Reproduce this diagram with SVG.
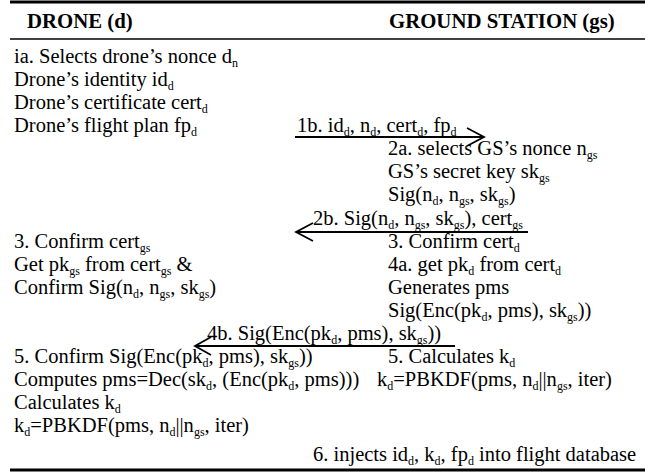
<svg xmlns="http://www.w3.org/2000/svg" width="657" height="473" viewBox="0 0 657 473">
<style>
text{font-family:"Liberation Serif","Times New Roman",serif;font-size:20.5px;fill:#000}
.h{font-weight:bold;font-size:20.8px}
.sb{font-size:12px}
.rule{stroke:#000;fill:none}
.arr{stroke:#000;stroke-width:1.8;fill:none}
</style>
<rect width="657" height="473" fill="#fff"/>
<g id="table">
<line class="rule" x1="10" y1="2" x2="645" y2="2" stroke-width="3"/>
<line class="rule" x1="10" y1="39" x2="645" y2="39" stroke-width="1.6"/>
<line class="rule" x1="10" y1="470" x2="645" y2="470" stroke-width="3"/>
</g>
<g id="drone">
<text class="h" x="27" y="28">DRONE (d)</text>
<text x="14" y="63">ia. Selects drone’s nonce d<tspan class="sb" dy="3.5">n</tspan></text>
<text x="14" y="86">Drone’s identity id<tspan class="sb" dy="3.5">d</tspan></text>
<text x="14" y="109">Drone’s certificate cert<tspan class="sb" dy="3.5">d</tspan></text>
<text x="14" y="132">Drone’s flight plan fp<tspan class="sb" dy="3.5">d</tspan></text>
<text x="14" y="248">3. Confirm cert<tspan class="sb" dy="3.5">gs</tspan></text>
<text x="14" y="271">Get pk<tspan class="sb" dy="3.5">gs</tspan><tspan dy="-3.5"> from cert</tspan><tspan class="sb" dy="3.5">gs</tspan><tspan dy="-3.5"> &amp;</tspan></text>
<text x="14" y="294">Confirm Sig(n<tspan class="sb" dy="3.5">d</tspan><tspan dy="-3.5">, n</tspan><tspan class="sb" dy="3.5">gs</tspan><tspan dy="-3.5">, sk</tspan><tspan class="sb" dy="3.5">gs</tspan><tspan dy="-3.5">)</tspan></text>
<text x="14" y="363">5. Confirm Sig(Enc(pk<tspan class="sb" dy="3.5">d</tspan><tspan dy="-3.5">, pms), sk</tspan><tspan class="sb" dy="3.5">gs</tspan><tspan dy="-3.5">))</tspan></text>
<text x="14" y="386">Computes pms=Dec(sk<tspan class="sb" dy="3.5">d</tspan><tspan dy="-3.5">, (Enc(pk</tspan><tspan class="sb" dy="3.5">d</tspan><tspan dy="-3.5">, pms)))</tspan></text>
<text x="14" y="409">Calculates k<tspan class="sb" dy="3.5">d</tspan></text>
<text x="14" y="432">k<tspan class="sb" dy="3.5">d</tspan><tspan dy="-3.5">=PBKDF(pms, n</tspan><tspan class="sb" dy="3.5">d</tspan><tspan dy="-3.5">||n</tspan><tspan class="sb" dy="3.5">gs</tspan><tspan dy="-3.5">, iter)</tspan></text>
</g>
<g id="ground_station">
<text class="h" x="389" y="28">GROUND STATION (gs)</text>
<text x="388" y="155">2a. selects GS’s nonce n<tspan class="sb" dy="3.5">gs</tspan></text>
<text x="388" y="178">GS’s secret key sk<tspan class="sb" dy="3.5">gs</tspan></text>
<text x="388" y="201">Sig(n<tspan class="sb" dy="3.5">d</tspan><tspan dy="-3.5">, n</tspan><tspan class="sb" dy="3.5">gs</tspan><tspan dy="-3.5">, sk</tspan><tspan class="sb" dy="3.5">gs</tspan><tspan dy="-3.5">)</tspan></text>
<text x="388" y="248">3. Confirm cert<tspan class="sb" dy="3.5">d</tspan></text>
<text x="388" y="271">4a. get pk<tspan class="sb" dy="3.5">d</tspan><tspan dy="-3.5"> from cert</tspan><tspan class="sb" dy="3.5">d</tspan></text>
<text x="388" y="294">Generates pms</text>
<text x="388" y="317">Sig(Enc(pk<tspan class="sb" dy="3.5">d</tspan><tspan dy="-3.5">, pms), sk</tspan><tspan class="sb" dy="3.5">gs</tspan><tspan dy="-3.5">))</tspan></text>
<text x="388" y="363">5. Calculates k<tspan class="sb" dy="3.5">d</tspan></text>
<text x="377" y="386">k<tspan class="sb" dy="3.5">d</tspan><tspan dy="-3.5">=PBKDF(pms, n</tspan><tspan class="sb" dy="3.5">d</tspan><tspan dy="-3.5">||n</tspan><tspan class="sb" dy="3.5">gs</tspan><tspan dy="-3.5">, iter)</tspan></text>
<text x="313" y="461">6. injects id<tspan class="sb" dy="3.5">d</tspan><tspan dy="-3.5">, k</tspan><tspan class="sb" dy="3.5">d</tspan><tspan dy="-3.5">, fp</tspan><tspan class="sb" dy="3.5">d</tspan><tspan dy="-3.5"> into flight database</tspan></text>
</g>
<g id="connectors">
<line class="arr" x1="295" y1="137" x2="484" y2="137"/>
<polyline class="arr" points="467,128 484,137 467,146"/>
<text x="297" y="132">1b. id<tspan class="sb" dy="3.5">d</tspan><tspan dy="-3.5">, n</tspan><tspan class="sb" dy="3.5">d</tspan><tspan dy="-3.5">, cert</tspan><tspan class="sb" dy="3.5">d</tspan><tspan dy="-3.5">, fp</tspan><tspan class="sb" dy="3.5">d</tspan></text>
<line class="arr" x1="296" y1="232" x2="528" y2="232"/>
<polyline class="arr" points="313,223 296,232 313,241"/>
<text x="313" y="225">2b. Sig(n<tspan class="sb" dy="3.5">d</tspan><tspan dy="-3.5">, n</tspan><tspan class="sb" dy="3.5">gs</tspan><tspan dy="-3.5">, sk</tspan><tspan class="sb" dy="3.5">gs</tspan><tspan dy="-3.5">), cert</tspan><tspan class="sb" dy="3.5">gs</tspan></text>
<line class="arr" x1="195" y1="346" x2="455" y2="346"/>
<polyline class="arr" points="211,337 195,346 211,355"/>
<text x="207" y="340">4b. Sig(Enc(pk<tspan class="sb" dy="3.5">d</tspan><tspan dy="-3.5">, pms), sk</tspan><tspan class="sb" dy="3.5">gs</tspan><tspan dy="-3.5">))</tspan></text>
</g>
</svg>
